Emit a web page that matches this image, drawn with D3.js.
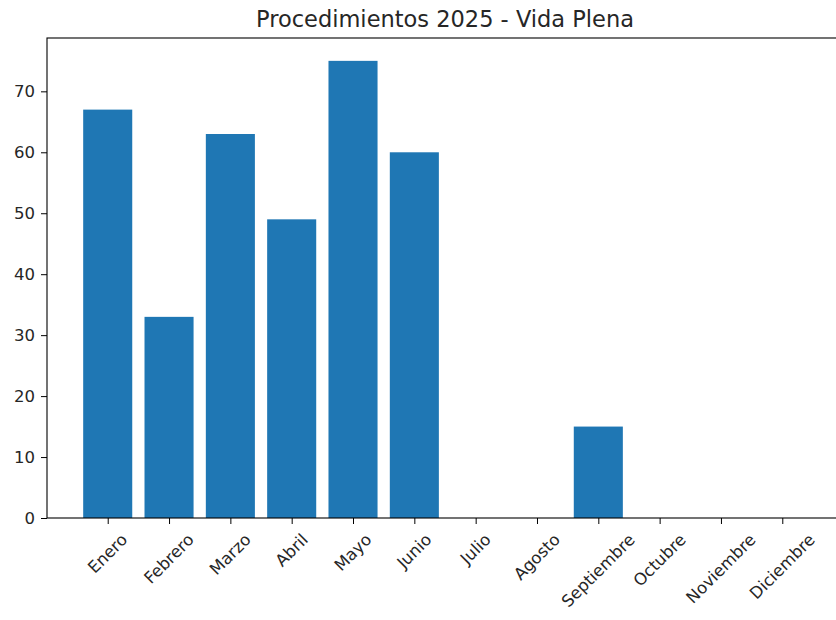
<!DOCTYPE html>
<html>
<head>
<meta charset="utf-8">
<script src="https://cdn.jsdelivr.net/npm/d3@7"></script>
<style>
  body { margin: 0; background: #fff; }
  text { font-family: "DejaVu Sans", sans-serif; fill: #262626; }
</style>
</head>
<body>
<div id="chart"></div>
<script>
// data
var months = ["Enero", "Febrero", "Marzo", "Abril", "Mayo", "Junio",
  "Julio", "Agosto", "Septiembre", "Octubre", "Noviembre", "Diciembre"];
var counts = [67, 33, 63, 49, 75, 60, 0, 0, 15, 0, 0, 0];
var yTicks = [0, 10, 20, 30, 40, 50, 60, 70];
var title = "Procedimientos 2025 - Vida Plena";

var width = 836, height = 620;
var plotL = 47, plotR = 843, plotT = 38, plotB = 518;
var tickFont = 16.5;

var svg = d3.select("#chart").append("svg")
  .attr("width", width)
  .attr("height", height);

// x as index, matplotlib-like margins
var x = d3.scaleLinear()
  .domain([-0.99, months.length - 1 + 0.99])
  .range([plotL, plotR]);
var y = d3.scaleLinear()
  .domain([0, 78.75])
  .range([plotB, plotT]);

var barW = x(0.4) - x(-0.4);

//bars
svg.selectAll("rect.bar")
  .data(counts)
  .enter().append("rect")
  .attr("class", "bar")
  .attr("x", function(d, i) { return x(i) - barW / 2; })
  .attr("y", function(d) { return y(d); })
  .attr("width", barW)
  .attr("height", function(d) { return y(0) - y(d); })
  .style("fill", "#1f77b4");

//spines
svg.append("rect")
  .attr("x", plotL)
  .attr("y", plotT)
  .attr("width", plotR - plotL)
  .attr("height", plotB - plotT)
  .style("fill", "none")
  .style("stroke", "#000")
  .style("stroke-width", 1.1);

//y axis
var yAxis = svg.append("g")
  .attr("transform", "translate(" + plotL + ",0)")
  .call(d3.axisLeft(y).tickValues(yTicks).tickSize(6).tickPadding(6));
yAxis.select(".domain").remove();
yAxis.selectAll("text")
  .style("font-size", tickFont + "px")
  .style("fill", "#262626")
  .style("font-family", "DejaVu Sans, sans-serif");

//x ticks
var xAxis = svg.append("g")
  .attr("transform", "translate(0," + plotB + ")")
  .call(d3.axisBottom(x).tickValues(d3.range(months.length)).tickSize(6).tickFormat(""));
xAxis.select(".domain").remove();

//x labels rotated 45, bbox centered under tick
var labelTop = 531;
svg.selectAll("text.xlab")
  .data(months)
  .enter().append("text")
  .attr("class", "xlab")
  .text(function(d) { return d; })
  .style("font-size", tickFont + "px")
  .style("text-anchor", "middle")
  .attr("dominant-baseline", "central")
  .attr("transform", function(d, i) {
    var L = this.getComputedTextLength();
    var h = tickFont;
    var half = (L + h) / (2 * Math.SQRT2);
    return "translate(" + x(i) + "," + (labelTop + half) + ") rotate(-45)";
  });

//title
svg.append("text")
  .text(title)
  .attr("x", (plotL + plotR) / 2)
  .attr("y", 27)
  .style("text-anchor", "middle")
  .style("font-size", "22.5px");
</script>
</body>
</html>
